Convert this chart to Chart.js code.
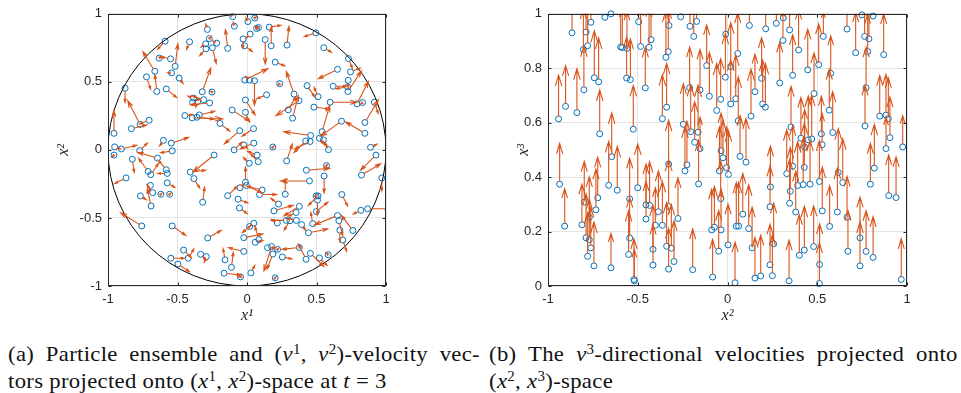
<!DOCTYPE html>
<html>
<head>
    <title>Particle ensemble velocities</title>
    <script src="https://cdn.jsdelivr.net/npm/chart.js"></script>
    <style>
        body { margin: 0; background: #fff; }
        #page { position: relative; width: 961px; height: 393px; overflow: hidden; }
        canvas { position: absolute; top: 0; }
        .cap { position: absolute; top: 341px; font-family: "Liberation Serif", serif; font-size: 21px;
               line-height: 27px; color: #111; letter-spacing: 0.3px; white-space: nowrap;
               transform: scaleX(1.08); transform-origin: 0 0; }
        .cap .l1 { text-align: justify; text-align-last: justify; white-space: normal; }
        .cap sup { font-size: 0.66em; vertical-align: 0.5em; line-height: 0; }
    </style>
</head>
<body>
<div id="page">
    <canvas id="ensembleChart" width="400" height="330" style="left:0px"></canvas>
    <canvas id="verticalChart" width="440" height="330" style="left:480px"></canvas>
    <div class="cap" style="left:8px; width:437px;">
        <div class="l1">(a) Particle ensemble and (<i>v</i><sup>1</sup>, <i>v</i><sup>2</sup>)-velocity vec-</div>
        <div>tors projected onto (<i>x</i><sup>1</sup>, <i>x</i><sup>2</sup>)-space at <i>t</i> = 3</div>
    </div>
    <div class="cap" style="left:489px; width:434px;">
        <div class="l1">(b) The <i>v</i><sup>3</sup>-directional velocities projected onto</div>
        <div>(<i>x</i><sup>2</sup>, <i>x</i><sup>3</sup>)-space</div>
    </div>
</div>

<script>
    // particle positions (x1, x2) and in-plane velocities (v1, v2)
    var ensX1 = [
        -0.103, -0.091, -0.285, -0.139, -0.271, -0.413, -0.297, -0.295, -0.249, -0.218,
        -0.589, -0.517, -0.632, -0.55, -0.663, -0.723, -0.543, -0.488, -0.649, -0.877,
        -0.581, -0.322, -0.252, -0.384, -0.391, -0.312, -0.269, -0.355, -0.447, -0.394,
        -0.343, -0.36, -0.704, -0.769, -0.832, -0.957, -0.194, -0.107, -0.052, -0.952,
        -0.904, -0.772, -0.601, -0.545, -0.538, -0.093,
        0.006, 0.056, 0.069, 0.083, 0.023, 0.16, 0.174, 0.131, -0.028, -0.018,
        0.288, 0.495, 0.552, 0.203, 0.235, -0.016, 0.018, 0.054, 0.141, 0.338,
        0.374, 0.297, 0.328, 0.432, 0.511, 0.482, 0.598, 0.68, 0.54, 0.458,
        0.422, 0.454, 0.521, 0.55, 0.047, 0.049, -0.011, -0.011, 0.73, 0.651,
        0.745, 0.728, 0.726, 0.62, 0.723, 0.791, 0.831, 0.916, 0.848, 0.848,
        0.889, 0.586, 0.186, -0.023,
        -0.957, -0.825, -0.711, -0.692, -0.581, -0.574, -0.644, -0.408, -0.382, -0.237,
        -0.87, -0.695, -0.574, -0.767, -0.678, -0.62, -0.557, -0.69, -0.319, -0.139,
        -0.064, -0.05, -0.054, -0.757, -0.538, -0.283, -0.456, -0.423, -0.334, -0.293,
        -0.548, -0.497, -0.158, -0.112, -0.165, -0.047,
        0.073, 0.016, 0.081, 0.285, 0.427, 0.572, 0.555, 0.928, 0.824, 0.97,
        -0.011, -0.004, 0.109, 0.09, 0.275, 0.449, 0.227, 0.194, 0.377, 0.353,
        0.497, 0.511, 0.507, 0.499, 0.473, 0.355, 0.309, 0.283, 0.218, 0.393,
        0.442, 0.651, 0.661, 0.682, 0.762, 0.668, 0.689, 0.819, 0.868, 0.049,
        0.018, -0.023, 0.059, 0.085, 0.148, 0.177, 0.186, 0.22, 0.377, 0.254,
        0.425, 0.456, 0.521, 0.584, -0.023, 0.028, 0.203
    ];
    var ensX2 = [
        0.979, 0.909, 0.885, 0.746, 0.818, 0.794, 0.779, 0.743, 0.751, 0.784,
        0.799, 0.614, 0.674, 0.669, 0.578, 0.537, 0.566, 0.528, 0.429, 0.453,
        0.448, 0.427, 0.425, 0.381, 0.35, 0.369, 0.345, 0.355, 0.252, 0.235,
        0.257, 0.24, 0.218, 0.187, 0.156, 0.122, 0.194, 0.293, 0.141, 0.022,
        0.007, -0.005, 0.07, 0.05, -0.007, 0.0,
        0.943, 0.969, 0.892, 0.899, 0.851, 0.902, 0.765, 0.811, 0.815, 0.765,
        0.77, 0.86, 0.751, 0.645, 0.487, 0.513, 0.513, 0.508, 0.405, 0.41,
        0.362, 0.295, 0.233, 0.472, 0.391, 0.314, 0.35, 0.211, 0.134, 0.106,
        0.065, 0.062, 0.086, 0.074, 0.156, 0.05, 0.367, 0.276, 0.671, 0.592,
        0.573, 0.511, 0.429, 0.468, 0.463, 0.338, 0.348, 0.35, 0.201, 0.122,
        0.019, 0.002, 0.021, 0.036,
        -0.038, -0.069, -0.158, -0.182, -0.146, -0.173, -0.06, -0.163, -0.211, -0.038,
        -0.206, -0.261, -0.242, -0.338, -0.314, -0.326, -0.326, -0.412, -0.384, -0.336,
        -0.362, -0.278, -0.427, -0.559, -0.559, -0.647, -0.736, -0.796, -0.767, -0.784,
        -0.796, -0.839, -0.808, -0.863, -0.906, -0.933,
        -0.038, -0.098, -0.086, -0.081, -0.149, -0.115, -0.192, -0.038, -0.185, -0.206,
        -0.237, -0.261, -0.295, -0.328, -0.326, -0.228, -0.398, -0.448, -0.415, -0.46,
        -0.338, -0.338, -0.369, -0.453, -0.542, -0.518, -0.52, -0.518, -0.537, -0.549,
        -0.609, -0.482, -0.52, -0.328, -0.592, -0.59, -0.662, -0.444, -0.432, -0.539,
        -0.563, -0.645, -0.679, -0.659, -0.719, -0.71, -0.765, -0.731, -0.717, -0.787,
        -0.803, -0.76, -0.794, -0.77, -0.746, -0.904, -0.94
    ];
    var ensV1 = [
        -0.014, -0.007, -0.01, -0.014, 0.012, -0.019, -0.029, -0.039, 0.024, -0.024,
        -0.048, 0.017, 0.014, -0.06, -0.075, 0.026, -0.024, 0.024, -0.012, 0,
        0.065, 0.053, -0.012, -0.036, 0.048, -0.072, -0.12, -0.012, 0.048, 0.19,
        0.096, 0.108, -0.06, -0.077, 0.096, 0, 0.06, 0.108, -0.096, 0.036,
        0.096, 0.048, -0.024, 0.108, -0.072, 0.048,
        -0.012, 0.012, -0.007, -0.014, -0.024, 0.072, 0, 0, 0, 0.048,
        0.012, -0.072, 0.048, 0.06, -0.012, 0.144, -0.024, 0, -0.06, -0.048,
        -0.144, 0.048, 0.036, 0.048, -0.024, 0.096, 0.168, -0.132, 0.048, -0.168,
        -0.072, -0.096, 0.024, 0.024, -0.072, -0.084, 0.06, 0.024, 0.024, -0.12,
        0.06, 0, 0.084, 0.084, -0.072, 0.072, -0.012, 0.024, 0.084, -0.12,
        0.04, -0.03, 0.007, 0.024,
        -0.012, 0.012, -0.06, 0.048, -0.048, -0.06, -0.12, 0.096, 0.036, -0.132,
        -0.072, -0.012, 0.048, 0.036, -0.036, 0.007, 0.007, -0.024, 0.012, 0.06,
        0.06, 0.024, 0.048, -0.132, 0.084, 0.084, 0.048, 0.036, 0.036, -0.012,
        0.084, 0.072, -0.012, 0.012, 0.108, -0.012,
        -0.06, -0.036, -0.048, 0.036, 0.144, 0.007, 0, -0.096, 0.12, 0,
        0, 0.096, -0.096, 0.108, 0, -0.18, -0.048, 0.12, -0.096, -0.048,
        0.007, -0.06, 0, 0.072, -0.012, -0.06, -0.036, -0.096, -0.036, 0.024,
        0.12, -0.144, 0.024, 0.036, -0.072, 0, 0.024, -0.048, 0.144, -0.072,
        0.007, 0.12, 0.048, -0.024, 0.048, -0.048, -0.036, 0.007, -0.108, 0.06,
        -0.048, 0.084, 0.048, -0.012, -0.096, 0.024, 0.007
    ];
    var ensV2 = [
        0.019, 0.024, 0.034, 0.12, 0.012, -0.048, -0.019, -0.043, -0.1, 0.014,
        -0.053, 0.144, 0.012, 0.012, 0.125, -0.079, 0, -0.034, 0.108, -0.091,
        -0.055, 0.151, 0.007, 0.012, 0.024, 0.024, -0.012, -0.036, 0.007, -0.007,
        0.024, -0.012, -0.024, 0.151, 0.024, 0.144, -0.048, -0.072, -0.084, -0.012,
        0.024, 0.048, -0.036, 0.036, -0.012, 0.048,
        0.024, 0.007, 0.012, 0.007, -0.024, 0.012, 0.12, -0.156, -0.06, -0.036,
        0.12, -0.024, -0.029, -0.024, -0.012, 0.072, 0.024, -0.156, -0.024, 0.144,
        -0.096, 0.084, 0.144, -0.072, 0.06, -0.012, 0, -0.096, 0.168, 0.024,
        -0.072, -0.048, -0.036, -0.048, -0.048, -0.036, -0.096, -0.06, -0.06, -0.06,
        0.024, -0.048, 0.132, 0, -0.012, 0.144, -0.012, -0.072, 0.144, 0.072,
        0.02, 0.05, 0.007, -0.024,
        -0.012, -0.084, 0.084, 0.072, 0.06, 0, 0.036, 0.012, -0.06, -0.108,
        -0.036, -0.048, -0.029, -0.024, 0.048, 0.007, 0.007, 0.108, 0.096, 0.06,
        -0.024, 0.024, -0.036, 0.084, -0.06, 0.048, -0.048, 0.06, -0.036, -0.036,
        0, -0.048, 0.072, 0.096, -0.012, 0,
        0.024, 0.036, 0.048, 0.108, 0.012, 0.007, -0.108, -0.096, 0.072, -0.084,
        0.096, -0.048, 0.024, 0, 0.096, 0, 0.036, 0.036, -0.06, -0.024,
        0.007, -0.06, -0.096, 0.06, 0.072, 0.012, -0.06, 0, 0.024, -0.036,
        0.024, -0.06, -0.096, -0.072, 0.096, -0.072, -0.072, -0.024, 0, -0.06,
        0.007, 0.024, 0.012, 0.084, 0, -0.156, -0.096, 0.007, -0.012, -0.012,
        0.096, -0.084, -0.048, 0.012, 0.024, 0.048, 0.007
    ];

    // particle positions (x2, x3) and vertical velocity v3
    var vertX2 = [
        -0.866, -0.649, -0.683, -0.761, -0.788, -0.803, -0.779, -0.595, -0.586, -0.56,
        -0.484, -0.437, -0.426, -0.495, -0.742, -0.718, -0.8, -0.562, -0.541, -0.458,
        -0.902, -0.941, -0.839, -0.712, -0.525,
        -0.261, -0.326, -0.209, -0.172, -0.188, -0.33, -0.343, -0.01, 0.122, 0.213,
        0.272, -0.116, 0.057, 0.018, -0.012, -0.211, -0.153, -0.101, -0.038, 0.018,
        0.046, -0.06, 0.06, 0.131, 0.153, 0.19, 0.196, 0.211, 0.291, -0.339,
        -0.363, -0.246, -0.205, -0.164, -0.183,
        0.311, 0.346, 0.309, 0.396, 0.447, 0.363, 0.508, 0.534, 0.482, 0.575,
        0.567, 0.586, 0.523, 0.666, 0.714, 0.749, 0.764, 0.788, 0.781, 0.811,
        0.87, 0.772, 0.848, 0.883, 0.896, 0.766, 0.905, 0.354, 0.409, 0.45,
        0.469,
        -0.645, -0.935, -0.798, -0.77, -0.733, -0.723, -0.662, -0.614, -0.545, -0.5,
        -0.907, -0.811, -0.788, -0.77, -0.762, -0.779, -0.744, -0.649, -0.545, -0.551,
        -0.521, -0.519, -0.454, -0.434, -0.385, -0.402, -0.454, -0.363, -0.415, -0.415,
        -0.328, -0.237, -0.226, -0.153, -0.036, -0.025, -0.045, -0.005, 0.005, 0.07,
        0.103, -0.161, -0.328, -0.276, -0.038, -0.088, -0.073, -0.036, 0.049, 0.062,
        0.085, 0.118, -0.049, 0.003, -0.339, -0.313, -0.298, -0.328, -0.194, -0.083,
        0.042, 0.137, 0.153, 0.185, 0.237, 0.239, 0.237, 0.25, 0.257,
        0.33, 0.363, 0.35, 0.346, 0.38, 0.391, 0.422, 0.428, 0.43, 0.46,
        0.527, 0.512, 0.528, 0.569, 0.612, 0.617, 0.642, 0.666, 0.671, 0.738,
        0.738, 0.772, 0.811, 0.796, 0.818, 0.883, 0.898, 0.939, 0.976, 0.968,
        0.343, 0.513, 0.512, 0.4, 0.428, 0.48
    ];
    var vertX3 = [
        0.93, 1.0, 0.987, 0.969, 0.933, 0.869, 0.883, 0.878, 0.876, 0.873,
        0.88, 0.877, 0.905, 0.971, 0.765, 0.75, 0.721, 0.764, 0.758, 0.728,
        0.66, 0.614, 0.637, 0.559, 0.576,
        0.989, 0.957, 0.954, 0.972, 0.917, 0.861, 0.84, 0.925, 0.957, 0.945,
        0.965, 0.81, 0.854, 0.806, 0.767, 0.728, 0.72, 0.697, 0.686, 0.669,
        0.688, 0.645, 0.607, 0.624, 0.714, 0.763, 0.669, 0.657, 0.746, 0.657,
        0.615, 0.594, 0.567, 0.565, 0.528,
        0.985, 0.941, 0.902, 0.867, 0.794, 0.774, 0.813, 0.917, 0.707, 0.781,
        0.646, 0.564, 0.559, 0.944, 0.857, 0.996, 0.917, 0.908, 0.861, 0.992,
        0.85, 0.728, 0.624, 0.628, 0.615, 0.588, 0.545, 0.584, 0.543, 0.537,
        0.54,
        0.475, 0.374, 0.308, 0.252, 0.28, 0.324, 0.37, 0.352, 0.32, 0.361,
        0.22, 0.225, 0.177, 0.17, 0.14, 0.109, 0.074, 0.067, 0.176, 0.116,
        0.024, 0.019, 0.298, 0.296, 0.273, 0.223, 0.246, 0.223, 0.135, 0.077,
        0.448, 0.423, 0.445, 0.505, 0.497, 0.471, 0.423, 0.435, 0.41, 0.476,
        0.455, 0.375, 0.292, 0.248, 0.321, 0.206, 0.216, 0.206, 0.22, 0.22,
        0.264, 0.211, 0.128, 0.151, 0.146, 0.139, 0.09, 0.062, 0.06, 0.033,
        0.012, 0.14, 0.029, 0.037, 0.291, 0.364, 0.078, 0.038, 0.155,
        0.413, 0.44, 0.348, 0.304, 0.272, 0.369, 0.372, 0.436, 0.51, 0.374,
        0.519, 0.384, 0.276, 0.219, 0.272, 0.417, 0.38, 0.253, 0.128, 0.177,
        0.074, 0.127, 0.105, 0.374, 0.433, 0.505, 0.332, 0.325, 0.511, 0.024,
        0.019, 0.079, 0.009, 0.113, 0.132, 0.145
    ];
    var vertV3 = [
        0.11, 0.07, 0.1, 0.1, 0.12, 0.13, 0.13, 0.14, 0.13, 0.12,
        0.13, 0.13, 0.11, 0.08, 0.15, 0.14, 0.14, 0.13, 0.13, 0.13,
        0.13, 0.14, 0.14, 0.14, 0.14,
        0.08, 0.1, 0.1, 0.08, 0.1, 0.14, 0.15, 0.1, 0.06, 0.08,
        0.07, 0.13, 0.13, 0.14, 0.14, 0.13, 0.13, 0.14, 0.13, 0.14,
        0.14, 0.15, 0.14, 0.15, 0.12, 0.13, 0.14, 0.14, 0.13, 0.14,
        0.14, 0.13, 0.15, 0.15, 0.13,
        0.06, 0.07, 0.1, 0.13, 0.13, 0.13, 0.13, 0.08, 0.13, 0.12,
        0.13, 0.13, 0.12, 0.08, 0.13, 0.06, 0.09, 0.1, 0.12, 0.05,
        0.13, 0.13, 0.13, 0.13, 0.13, 0.13, 0.13, 0.13, 0.13, 0.14,
        0.14,
        0.14, 0.13, 0.13, 0.13, 0.13, 0.13, 0.14, 0.14, 0.13, 0.14,
        0.12, 0.13, 0.14, 0.13, 0.13, 0.14, 0.14, 0.11, 0.13, 0.14,
        0.13, 0.1, 0.13, 0.14, 0.13, 0.12, 0.12, 0.14, 0.14, 0.13,
        0.14, 0.14, 0.14, 0.1, 0.12, 0.12, 0.14, 0.13, 0.14, 0.13,
        0.14, 0.14, 0.15, 0.13, 0.12, 0.13, 0.13, 0.13, 0.14, 0.14,
        0.13, 0.14, 0.13, 0.13, 0.14, 0.14, 0.13, 0.13, 0.13, 0.12,
        0.13, 0.13, 0.13, 0.13, 0.13, 0.13, 0.13, 0.13, 0.13,
        0.14, 0.13, 0.14, 0.14, 0.13, 0.14, 0.15, 0.14, 0.12, 0.14,
        0.1, 0.13, 0.14, 0.13, 0.14, 0.14, 0.14, 0.13, 0.13, 0.13,
        0.14, 0.13, 0.13, 0.13, 0.14, 0.1, 0.13, 0.13, 0.1, 0.13,
        0.13, 0.13, 0.13, 0.13, 0.14, 0.13
    ];

    var ensTicks = [-1, -0.5, 0, 0.5, 1];
    var vertTicks = [0, 0.2, 0.4, 0.6, 0.8, 1];

    var BLUE = '#0072BD';
    var ORANGE = '#D95319';
    var AXIS = '#262626';

    // quiver arrows, frame with inward ticks, and the optional unit circle
    var quiverPlugin = {
        id: 'quiver',
        afterDatasetsDraw: function (chart, args, opts) {
            var ctx = chart.ctx, a = chart.chartArea;
            var sx = chart.scales.x, sy = chart.scales.y;
            var k = opts.scale || 1;
            ctx.save();
            ctx.beginPath();
            ctx.rect(a.left, a.top, a.right - a.left, a.bottom - a.top);
            ctx.clip();

            if (opts.circle) {
                var cx = sx.getPixelForValue(0), cy = sy.getPixelForValue(0);
                ctx.beginPath();
                ctx.ellipse(cx, cy, sx.getPixelForValue(1) - cx, cy - sy.getPixelForValue(1), 0, 0, Math.PI * 2);
                ctx.strokeStyle = '#000';
                ctx.lineWidth = 1;
                ctx.stroke();
            }

            ctx.strokeStyle = ORANGE;
            ctx.lineWidth = 1.1;
            ctx.lineCap = 'round';
            for (var i = 0; i < opts.xs.length; i++) {
                var x0 = sx.getPixelForValue(opts.xs[i]);
                var y0 = sy.getPixelForValue(opts.ys[i]);
                var x1 = sx.getPixelForValue(opts.xs[i] + k * opts.us[i]);
                var y1 = sy.getPixelForValue(opts.ys[i] + k * opts.vs[i]);
                var dx = x1 - x0, dy = y1 - y0;
                var len = Math.sqrt(dx * dx + dy * dy);
                if (len < 0.5) continue;
                var ux = dx / len, uy = dy / len;
                var r = 3;
                ctx.beginPath();
                if (len > r) {
                    ctx.moveTo(x0 + ux * r, y0 + uy * r);
                    ctx.lineTo(x1, y1);
                }
                var hl = Math.max(3, len * 0.24), hw = hl * 0.3;
                ctx.moveTo(x1 - ux * hl - uy * hw, y1 - uy * hl + ux * hw);
                ctx.lineTo(x1, y1);
                ctx.lineTo(x1 - ux * hl + uy * hw, y1 - uy * hl - ux * hw);
                ctx.stroke();
            }
            ctx.restore();
        },
        afterDraw: function (chart) {
            var ctx = chart.ctx, a = chart.chartArea;
            var L = Math.round(a.left) + 0.5, R = Math.round(a.right) - 0.5;
            var T = Math.round(a.top) + 0.5, B = Math.round(a.bottom) - 0.5;
            ctx.save();
            ctx.strokeStyle = AXIS;
            ctx.lineWidth = 1;
            ctx.strokeRect(L, T, R - L, B - T);
            ctx.beginPath();
            chart.scales.x.ticks.forEach(function (t) {
                var p = Math.round(chart.scales.x.getPixelForValue(t.value)) + 0.5;
                ctx.moveTo(p, B); ctx.lineTo(p, B - 3);
                ctx.moveTo(p, T); ctx.lineTo(p, T + 3);
            });
            chart.scales.y.ticks.forEach(function (t) {
                var p = Math.round(chart.scales.y.getPixelForValue(t.value)) + 0.5;
                ctx.moveTo(L, p); ctx.lineTo(L + 3, p);
                ctx.moveTo(R, p); ctx.lineTo(R - 3, p);
            });
            ctx.stroke();
            ctx.restore();
        }
    };

    function tickLabel(v) {
        return String(+v.toFixed(1));
    }

    function makeChart(id, cfg) {
        var pts = cfg.xs.map(function (v, i) { return {x: v, y: cfg.ys[i]}; });
        return new Chart(document.getElementById(id), {
            type: 'scatter',
            data: {
                datasets: [{
                    data: pts,
                    pointStyle: 'circle',
                    pointRadius: 3,
                    pointBorderWidth: 1,
                    borderColor: BLUE,
                    backgroundColor: 'rgba(0,0,0,0)',
                    clip: 6
                }]
            },
            options: {
                responsive: false,
                animation: false,
                devicePixelRatio: 1,
                layout: {padding: {left: 0, top: 8, right: cfg.padRight, bottom: 0}},
                plugins: {
                    legend: {display: false},
                    tooltip: {enabled: false},
                    quiver: {xs: cfg.xs, ys: cfg.ys, us: cfg.us, vs: cfg.vs, circle: cfg.circle, scale: 1.15}
                },
                scales: {
                    x: {
                        type: 'linear', min: -1, max: 1,
                        afterBuildTicks: function (s) { s.ticks = ensTicks.map(function (v) { return {value: v}; }); },
                        afterFit: function (s) { s.height = 44; },
                        grid: {color: '#e4e4e4', drawTicks: false},
                        border: {display: false},
                        ticks: {padding: 6, color: AXIS, font: {family: 'Liberation Sans', size: 13}, callback: tickLabel},
                        title: {display: true, text: cfg.xTitle, color: AXIS, padding: {top: 0, bottom: 5},
                                font: {family: 'Liberation Serif', size: 16, style: 'italic'}}
                    },
                    y: {
                        type: 'linear', min: cfg.yMin, max: 1,
                        afterBuildTicks: function (s) { s.ticks = cfg.yTicks.map(function (v) { return {value: v}; }); },
                        afterFit: function (s) { s.width = cfg.yWidth; },
                        grid: {color: '#e4e4e4', drawTicks: false},
                        border: {display: false},
                        ticks: {padding: 6, color: AXIS, font: {family: 'Liberation Sans', size: 13}, callback: tickLabel},
                        title: {display: true, text: cfg.yTitle, color: AXIS, padding: {top: cfg.yTitlePad, bottom: 0},
                                font: {family: 'Liberation Serif', size: 16, style: 'italic'}}
                    }
                }
            },
            plugins: [quiverPlugin]
        });
    }

    makeChart('ensembleChart', {
        xs: ensX1, ys: ensX2, us: ensV1, vs: ensV2, circle: true,
        yMin: -1, yTicks: ensTicks, yWidth: 108, padRight: 14, yTitlePad: 54,
        xTitle: 'x¹', yTitle: 'x²'
    });

    makeChart('verticalChart', {
        xs: vertX2, ys: vertX3, us: vertX2.map(function () { return 0; }), vs: vertV3, circle: false,
        yMin: 0, yTicks: vertTicks, yWidth: 68, padRight: 13, yTitlePad: 34,
        xTitle: 'x²', yTitle: 'x³'
    });
</script>
</body>
</html>
